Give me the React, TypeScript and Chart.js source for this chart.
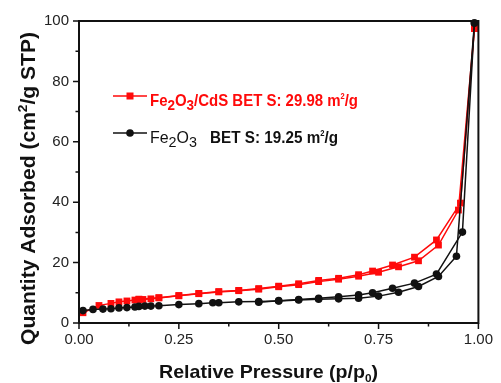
import React, { useEffect, useRef } from "react";
import { Chart, registerables } from "chart.js";
Chart.register(...registerables);

const FONT = '"Liberation Sans", Arial, Helvetica, sans-serif';
const RED = "#ff0a0a";
const BLACK = "#111111";

// Fe2O3/CdS adsorption branch
const cdsAdsP = [0.01, 0.05, 0.08, 0.10, 0.12, 0.14, 0.15, 0.16, 0.18, 0.20, 0.25, 0.30, 0.35, 0.40, 0.45, 0.50, 0.55, 0.60, 0.65, 0.70, 0.75, 0.80, 0.85, 0.90, 0.95, 0.99];
const cdsAdsQ = [3.4, 5.8, 6.5, 7.0, 7.3, 7.6, 7.8, 7.8, 8.0, 8.3, 9.0, 9.7, 10.3, 10.7, 11.2, 12.0, 12.7, 13.7, 14.5, 15.5, 16.8, 18.6, 20.6, 25.8, 37.4, 97.5];
// Fe2O3/CdS desorption branch
const cdsDesP = [0.99, 0.955, 0.895, 0.84, 0.785, 0.735, 0.70, 0.65, 0.60, 0.55, 0.50, 0.45, 0.40, 0.35, 0.30, 0.25, 0.20, 0.15];
const cdsDesQ = [97.5, 39.7, 27.5, 21.8, 19.2, 17.2, 16.0, 14.8, 14.1, 13.0, 12.2, 11.4, 10.8, 10.4, 9.8, 9.1, 8.4, 7.9];
// Fe2O3 adsorption branch
const feAdsP = [0.01, 0.035, 0.06, 0.08, 0.10, 0.12, 0.14, 0.15, 0.165, 0.18, 0.20, 0.25, 0.30, 0.335, 0.35, 0.40, 0.45, 0.50, 0.55, 0.60, 0.65, 0.70, 0.75, 0.80, 0.85, 0.90, 0.945, 0.99];
const feAdsQ = [4.1, 4.5, 4.6, 4.7, 5.0, 5.1, 5.3, 5.5, 5.6, 5.6, 5.7, 6.1, 6.4, 6.7, 6.7, 7.0, 7.1, 7.3, 7.6, 7.9, 8.0, 8.2, 8.9, 10.2, 12.1, 15.4, 22.1, 99.3];
// Fe2O3 desorption branch
const feDesP = [0.99, 0.96, 0.895, 0.84, 0.785, 0.735, 0.70, 0.65, 0.60, 0.55, 0.50, 0.45];
const feDesQ = [99.3, 30.1, 16.2, 13.2, 11.5, 10.0, 9.3, 8.7, 8.2, 7.8, 7.4, 6.9];

const xTicks = [0, 0.25, 0.5, 0.75, 1.0];
const yTicks = [0, 20, 40, 60, 80, 100];

type Seg = { t: string; w?: string; s?: number; dy?: number };

function richWidth(ctx: CanvasRenderingContext2D, segs: Seg[], size: number) {
  let w = 0;
  for (const seg of segs) {
    ctx.font = `${seg.w ?? "normal"} ${size * (seg.s ?? 1)}px ${FONT}`;
    w += ctx.measureText(seg.t).width;
  }
  return w;
}

function drawRich(ctx: CanvasRenderingContext2D, segs: Seg[], x: number, y: number, size: number, color: string) {
  let cx = x;
  ctx.fillStyle = color;
  ctx.textBaseline = "alphabetic";
  ctx.textAlign = "left";
  for (const seg of segs) {
    ctx.font = `${seg.w ?? "normal"} ${size * (seg.s ?? 1)}px ${FONT}`;
    ctx.fillText(seg.t, cx, y + (seg.dy ?? 0));
    cx += ctx.measureText(seg.t).width;
  }
  return cx - x;
}

// draw rich text starting at x, squeezed/stretched horizontally to a target width
function drawRichFit(ctx: CanvasRenderingContext2D, segs: Seg[], x: number, y: number, size: number, color: string, target: number) {
  const w = richWidth(ctx, segs, size);
  ctx.save();
  ctx.translate(x, y);
  ctx.scale(target / w, 1);
  drawRich(ctx, segs, 0, 0, size, color);
  ctx.restore();
}

const pts = (p: number[], q: number[]) => p.map((x, i) => ({ x, y: q[i] }));

const decor = {
  id: "decor",
  afterDraw(chart: any) {
    const ctx: CanvasRenderingContext2D = chart.ctx;
    const { left, right, top, bottom } = chart.chartArea;
    const xs = chart.scales.x;
    const ys = chart.scales.y;
    ctx.save();
    // frame
    ctx.strokeStyle = BLACK;
    ctx.lineWidth = 2;
    ctx.strokeRect(left, top, right - left, bottom - top);
    // ticks
    ctx.lineWidth = 1.5;
    ctx.beginPath();
    for (let i = 0; i <= 8; i++) {
      const v = i * 0.125;
      const px = xs.getPixelForValue(v);
      const len = i % 2 === 0 ? 6 : 3.5;
      ctx.moveTo(px, bottom);
      ctx.lineTo(px, bottom + len);
    }
    for (let i = 0; i <= 10; i++) {
      const v = i * 10;
      const py = ys.getPixelForValue(v);
      const len = i % 2 === 0 ? 6 : 3.5;
      ctx.moveTo(left, py);
      ctx.lineTo(left - len, py);
    }
    ctx.stroke();

    // x title
    const xt: Seg[] = [
      { t: "Relative Pressure (p/p", w: "bold" },
      { t: "0", w: "bold", s: 0.6, dy: 4 },
      { t: ")", w: "bold" },
    ];
    drawRichFit(ctx, xt, 159, 378, 18.5, BLACK, 219);

    // y title
    const yt: Seg[] = [
      { t: "Quantity Adsorbed (cm", w: "bold" },
      { t: "2", w: "bold", s: 0.65, dy: -8 },
      { t: "/g STP)", w: "bold" },
    ];
    ctx.save();
    ctx.translate(35, 345);
    ctx.rotate(-Math.PI / 2);
    drawRichFit(ctx, yt, 0, 0, 21, BLACK, 313);
    ctx.restore();

    // legend
    const lx0 = 113, lx1 = 147, mx = 130;
    // red row
    let ly = 96;
    ctx.strokeStyle = RED;
    ctx.lineWidth = 1.5;
    ctx.beginPath();
    ctx.moveTo(lx0, ly);
    ctx.lineTo(lx1, ly);
    ctx.stroke();
    ctx.fillStyle = RED;
    ctx.fillRect(mx - 3.5, ly - 3.5, 7, 7);
    drawRichFit(ctx, [
      { t: "Fe", w: "bold" },
      { t: "2", w: "bold", s: 0.9, dy: 4 },
      { t: "O", w: "bold" },
      { t: "3", w: "bold", s: 0.9, dy: 4 },
      { t: "/CdS BET S: 29.98 m", w: "bold" },
      { t: "2", w: "bold", s: 0.5, dy: -7 },
      { t: "/g", w: "bold" },
    ], 150, 106, 17, RED, 208);
    // black row
    ly = 133;
    ctx.strokeStyle = BLACK;
    ctx.beginPath();
    ctx.moveTo(lx0, ly);
    ctx.lineTo(lx1, ly);
    ctx.stroke();
    ctx.fillStyle = BLACK;
    ctx.beginPath();
    ctx.arc(mx, ly, 3.8, 0, Math.PI * 2);
    ctx.fill();
    drawRichFit(ctx, [
      { t: "Fe" },
      { t: "2", s: 0.9, dy: 4 },
      { t: "O" },
      { t: "3", s: 0.9, dy: 4 },
    ], 150, 143, 17, BLACK, 47);
    drawRichFit(ctx, [
      { t: "BET S: 19.25 m", w: "bold" },
      { t: "2", w: "bold", s: 0.5, dy: -7 },
      { t: "/g", w: "bold" },
    ], 210, 143, 17, BLACK, 128);
    ctx.restore();
  },
};

export default function App() {
  const ref = useRef<HTMLCanvasElement>(null);
  useEffect(() => {
    if (!ref.current) return;
    const red = { borderColor: RED, backgroundColor: RED, pointStyle: "rect", pointRadius: 4.8, borderWidth: 1.5, pointBorderWidth: 0 };
    const blk = { borderColor: BLACK, backgroundColor: BLACK, pointStyle: "circle", pointRadius: 3.8, borderWidth: 1.5, pointBorderWidth: 0 };
    const chart = new Chart(ref.current, {
      type: "scatter",
      data: {
        datasets: [
          { label: "Fe2O3 ads", data: pts(feAdsP, feAdsQ), showLine: true, clip: false, ...blk } as any,
          { label: "Fe2O3 des", data: pts(feDesP, feDesQ), showLine: true, clip: false, ...blk } as any,
          { label: "Fe2O3/CdS ads", data: pts(cdsAdsP, cdsAdsQ), showLine: true, clip: false, ...red } as any,
          { label: "Fe2O3/CdS des", data: pts(cdsDesP, cdsDesQ), showLine: true, clip: false, ...red } as any,
        ],
      },
      options: {
        animation: false,
        responsive: false,
        devicePixelRatio: 1,
        layout: { padding: { top: 21, right: 19, left: 0, bottom: 0 } },
        plugins: { legend: { display: false }, tooltip: { enabled: false } },
        scales: {
          x: {
            type: "linear",
            min: 0,
            max: 1,
            afterBuildTicks: (s: any) => { s.ticks = xTicks.map((v) => ({ value: v })); },
            afterFit: (s: any) => { s.height = 60; },
            grid: { display: false, drawTicks: false },
            border: { display: false },
            ticks: {
              padding: 8,
              color: "#222",
              font: { family: FONT, size: 15 },
              callback: (v: any) => Number(v).toFixed(2),
            },
          },
          y: {
            type: "linear",
            min: 0,
            max: 100,
            afterBuildTicks: (s: any) => { s.ticks = yTicks.map((v) => ({ value: v })); },
            afterFit: (s: any) => { s.width = 79; },
            grid: { display: false, drawTicks: false },
            border: { display: false },
            ticks: {
              padding: 10,
              color: "#222",
              font: { family: FONT, size: 15 },
              callback: (v: any) => String(v),
            },
          },
        },
      },
      plugins: [decor],
    });
    return () => chart.destroy();
  }, []);
  return (
    <div style={{ position: "fixed", left: 0, top: 0, width: 501, height: 383, background: "#fff" }}>
      <canvas ref={ref} width={501} height={383} style={{ display: "block", width: 501, height: 383 }} />
    </div>
  );
}
